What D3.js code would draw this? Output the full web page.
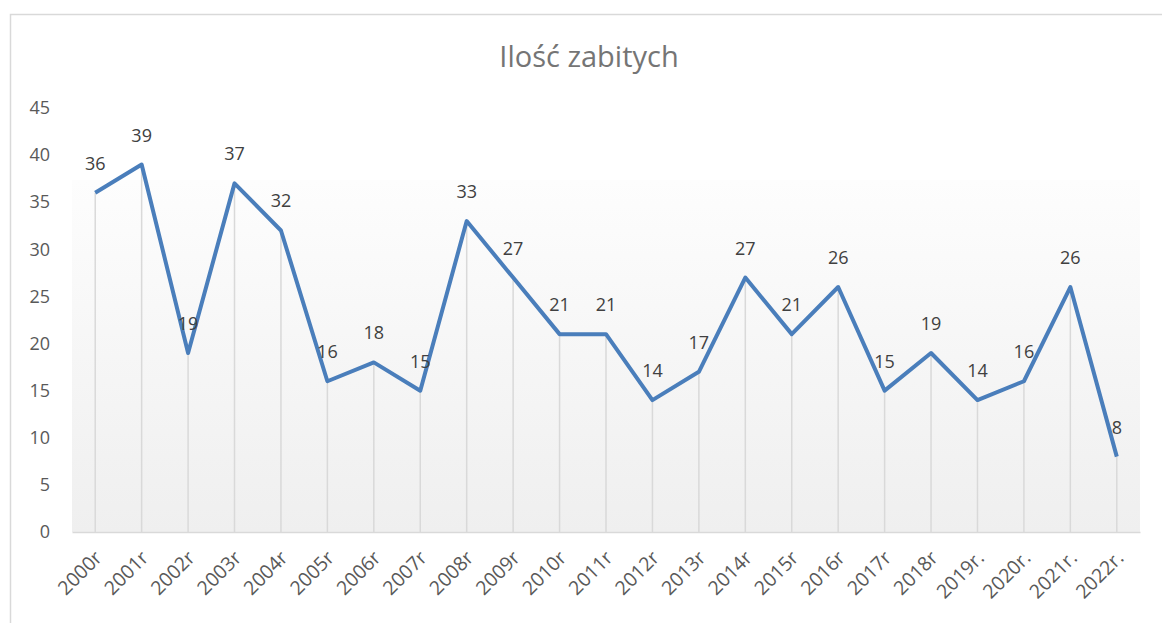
<!DOCTYPE html>
<html>
<head>
<meta charset="utf-8">
<script src="https://cdn.jsdelivr.net/npm/d3@7"></script>
<style>
  body { margin: 0; background: #fff; }
  text { font-family: "Open Sans", "Noto Sans", sans-serif; }
</style>
</head>
<body>
<div id="chart"></div>
<script>
// data
var years = ["2000r", "2001r", "2002r", "2003r", "2004r", "2005r", "2006r", "2007r",
  "2008r", "2009r", "2010r", "2011r", "2012r", "2013r", "2014r", "2015r", "2016r",
  "2017r", "2018r", "2019r.", "2020r.", "2021r.", "2022r."];
var killed = [36, 39, 19, 37, 32, 16, 18, 15, 33, 27, 21, 21, 14, 17, 27, 21, 26, 15, 19, 14, 16, 26, 8];
var yTicks = [0, 5, 10, 15, 20, 25, 30, 35, 40, 45];

var svgWidth = 1162;
var svgHeight = 623;

var margin = { top: 108, right: 22, bottom: 91, left: 72 };
var width = svgWidth - margin.left - margin.right;
var height = svgHeight - margin.top - margin.bottom;

var data = years.map(function(y, i) { return { year: y, value: killed[i] }; });

var svg = d3.select("#chart")
  .append("svg")
  .attr("width", svgWidth)
  .attr("height", svgHeight);

// chart border (cut off on the right and bottom)
svg.append("path")
  .attr("d", "M10.5," + svgHeight + " V14.5 H" + svgWidth)
  .attr("fill", "none")
  .attr("stroke", "#d9d9d9")
  .attr("stroke-width", 1.5);

// plot area gradient
var grad = svg.append("defs").append("linearGradient")
  .attr("id", "plotFill")
  .attr("x1", 0).attr("y1", 0).attr("x2", 0).attr("y2", 1);
grad.append("stop").attr("offset", "0%").attr("stop-color", "#fdfdfd");
grad.append("stop").attr("offset", "100%").attr("stop-color", "#efefef");

var chartGroup = svg.append("g")
  .attr("transform", `translate(${margin.left}, ${margin.top})`);

var xScale = d3.scaleBand()
  .domain(years)
  .range([0, width]);

var yScale = d3.scaleLinear()
  .domain([0, 45])
  .range([height, 0]);

chartGroup.append("rect")
  .attr("x", 0)
  .attr("y", 72)
  .attr("width", width)
  .attr("height", height - 72)
  .attr("fill", "url(#plotFill)");

var cx = function(d) { return xScale(d.year) + xScale.bandwidth() / 2; };

// drop lines
chartGroup.selectAll(".drop")
  .data(data)
  .enter()
  .append("line")
  .attr("x1", cx)
  .attr("x2", cx)
  .attr("y1", d => yScale(d.value))
  .attr("y2", height)
  .attr("stroke", "#d9d9d9")
  .attr("stroke-width", 1.5);

// x axis
var xAxis = chartGroup.append("g")
  .attr("transform", `translate(0, ${height})`)
  .call(d3.axisBottom(xScale).tickSize(0).tickPadding(0));
xAxis.select(".domain").attr("stroke", "#d9d9d9").attr("stroke-width", 1.5);
xAxis.selectAll("text")
  .attr("fill", "#595959")
  .attr("font-size", "19.5px")
  .attr("text-anchor", "end")
  .attr("y", 0)
  .attr("dy", 0)
  .attr("transform", "translate(8, 27) rotate(-45)");

// y axis
var yAxis = chartGroup.append("g")
  .call(d3.axisLeft(yScale).tickValues(yTicks).tickSize(0).tickPadding(22));
yAxis.select(".domain").remove();
yAxis.selectAll("text")
  .attr("fill", "#595959")
  .attr("font-size", "18px");

// line
var line = d3.line()
  .x(cx)
  .y(d => yScale(d.value));

chartGroup.append("path")
  .datum(data)
  .attr("d", line)
  .attr("fill", "none")
  .attr("stroke", "#4a7ebb")
  .attr("stroke-width", 4)
  .attr("stroke-linejoin", "round");

// data labels
chartGroup.selectAll(".lbl")
  .data(data)
  .enter()
  .append("text")
  .attr("x", cx)
  .attr("y", d => yScale(d.value) - 23)
  .attr("text-anchor", "middle")
  .attr("fill", "#404040")
  .attr("font-size", "18px")
  .text(d => d.value);

// title
svg.append("text")
  .attr("x", 589)
  .attr("y", 67)
  .attr("text-anchor", "middle")
  .attr("fill", "#757575")
  .attr("font-size", "29px")
  .text("Ilość zabitych");
</script>
</body>
</html>
